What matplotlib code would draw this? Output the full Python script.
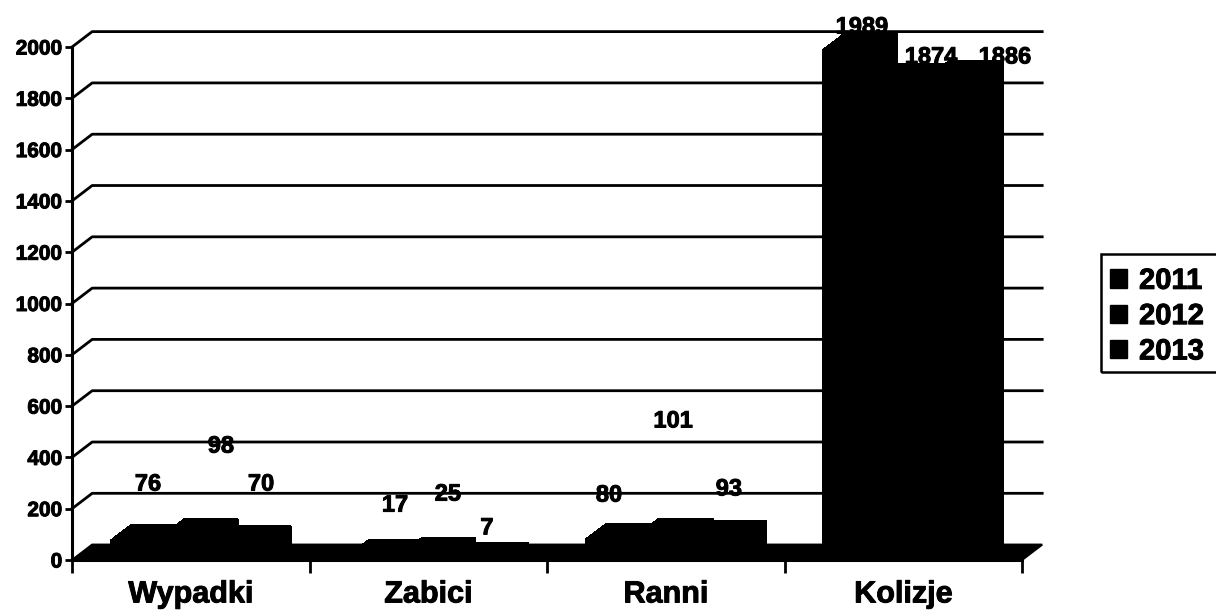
import matplotlib
matplotlib.use("Agg")
import matplotlib.pyplot as plt
from matplotlib.patches import Polygon, Rectangle, Patch
import matplotlib.patheffects as pe

# ---- data ----
categories = ["Wypadki", "Zabici", "Ranni", "Kolizje"]
years = ["2011", "2012", "2013"]
values_2011 = [76, 17, 80, 1989]
values_2012 = [98, 25, 101, 1874]
values_2013 = [70, 7, 93, 1886]
y_ticks = [0, 200, 400, 600, 800, 1000, 1200, 1400, 1600, 1800, 2000]

# label anchor positions (data coords), kept separate from values
label_pos = {
    "2011": [(-0.18, 296), (0.86, 214), (1.761, 253), (2.826, 2078)],
    "2012": [(0.127, 444), (1.083, 257), (2.031, 542), (3.117, 1961)],
    "2013": [(0.296, 296), (1.247, 125), (2.266, 277), (3.428, 1961)],
}

series = [values_2011, values_2012, values_2013]

plt.rcParams['font.family'] = ['Liberation Sans', 'DejaVu Sans']
plt.rcParams['font.weight'] = 'bold'
heavy = [pe.withStroke(linewidth=0.7, foreground="black")]

W, H = 1216, 611
fig = plt.figure(figsize=(W / 100, H / 100), dpi=100)
ax = fig.add_axes([72 / W, (H - 560) / H, 950 / W, 513 / H])
ax.set_xlim(-0.5, 3.5)
ax.set_ylim(0, 2000)

# depth offsets (data units)
DX = 0.085
DY = 60
x0, x1 = -0.5, 3.5

# back wall grid lines
for v in y_ticks[1:]:
    ax.plot([x0, x0 + DX, x1 + DX], [v, v + DY, v + DY], color="black",
            lw=2.0, clip_on=False, zorder=1, solid_joinstyle="round")

# floor
floor = Polygon([(x0, 0), (x0 + DX, DY), (x1 + DX, DY), (x1, 0)],
                closed=True, facecolor="black", edgecolor="black", lw=1.5,
                clip_on=False, zorder=2)
ax.add_patch(floor)

# bars (3D-like)
group_w = 0.67
bar_w = group_w / 3
for si, vals in enumerate(series):
    for ci, v in enumerate(vals):
        left = ci - group_w / 2 + si * bar_w
        right = left + bar_w
        pts = [(left, 0), (left, v), (left + DX, v + DY), (right + DX, v + DY),
               (right + DX, DY), (right, 0)]
        body = Polygon(pts, closed=True, facecolor="black", edgecolor="black",
                       lw=1.0, clip_on=False, zorder=3, antialiased=False)
        ax.add_patch(body)

# data labels
for si, (yr, vals) in enumerate(zip(years, series)):
    for ci, v in enumerate(vals):
        lx, ly = label_pos[yr][ci]
        ax.text(lx, ly, str(v), ha="center", va="center", fontsize=17,
                fontweight="bold", color="black", zorder=5, clip_on=False,
                path_effects=heavy)

# axes styling
for s in ["top", "right"]:
    ax.spines[s].set_visible(False)
ax.spines["left"].set_linewidth(2.2)
ax.spines["bottom"].set_linewidth(2.2)
ax.spines["left"].set_zorder(4)
ax.spines["bottom"].set_zorder(4)
ax.set_yticks(y_ticks)
ax.set_yticklabels([str(t) for t in y_ticks])
ax.tick_params(axis="y", direction="out", length=5, width=2, labelsize=15, pad=2)
ax.set_xticks([-0.5, 0.5, 1.5, 2.5, 3.5])
ax.set_xticklabels([])
ax.set_xticks(range(len(categories)), minor=True)
ax.set_xticklabels(categories, minor=True, fontsize=22, fontweight="bold")
ax.tick_params(axis="x", which="major", direction="out", length=9, width=2)
ax.tick_params(axis="x", which="minor", length=0, pad=14)
for lab in ax.get_yticklabels() + ax.get_xticklabels(minor=True):
    lab.set_fontweight("bold")
    lab.set_path_effects(heavy)
ax.patch.set_visible(False)

# legend
handles = [Patch(facecolor="black", edgecolor="black") for _ in years]
leg = fig.legend(handles, years, loc="upper left",
                 bbox_to_anchor=(1104 / W, 1 - 261 / H), frameon=False,
                 prop={"weight": "bold", "size": 21},
                 handlelength=0.6, handleheight=0.6, handletextpad=0.4,
                 labelspacing=0.25, borderaxespad=0, borderpad=0.2)
for t in leg.get_texts():
    t.set_path_effects(heavy)
fig.patches.append(Rectangle((1101 / W, 1 - 372 / H), 130 / W, 118 / H,
                             transform=fig.transFigure, facecolor="none",
                             edgecolor="black", lw=1.8, clip_on=False))

fig.savefig("out.png", dpi=100)
